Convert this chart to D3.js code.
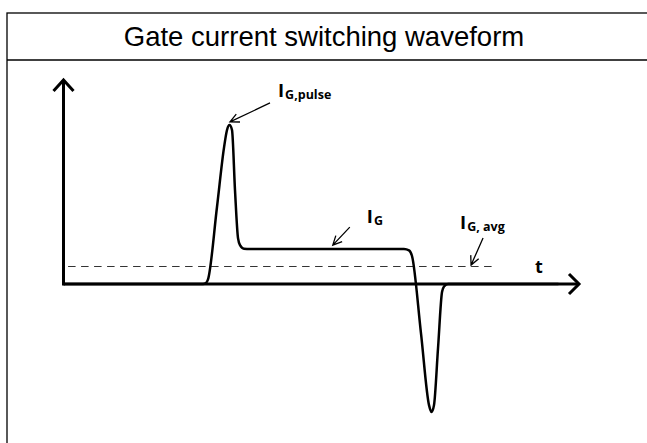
<!DOCTYPE html>
<html>
<head>
<meta charset="utf-8">
<script src="https://d3js.org/d3.v7.min.js"></script>
<style>
    body { margin: 0; background: #fff; }
    svg { display: block; }
</style>
</head>
<body>
<div id="chart"></div>
<script>
    // waveform samples (time in arbitrary units, current relative to plateau I_G = 1)
    var times    = [0, 26.85, 27.43, 27.82, 29.57, 30.93, 31.52, 32.0, 32.49, 33.07, 33.66, 34.05, 34.82, 35.99,
                    65.95, 66.93, 67.51, 69.26, 70.82, 71.3, 71.79, 72.57, 73.35, 73.74, 74.51, 75.29, 96];
    var currents = [0, 0, 0.03, 0.13, 2.2, 3.89, 4.4, 4.54, 4.4, 2.69, 1.31, 1.11, 1.01, 1.0,
                    1.0, 0.96, 0.8, -1.41, -3.46, -3.66, -3.46, -1.84, -0.23, -0.07, 0, 0, 0];

    var avgCurrent = 0.5;
    var avgRange = [0.6, 84];

    var title = "Gate current switching waveform";
    var axisLabel = "t";

    // annotation labels: main text, subscript, point the arrow goes to (time, current)
    var annLabels = ["I", "I", "I"];
    var annSubs = ["G,pulse", "G", "G, avg"];
    var annTimes = [32.1, 52.1, 79.0];
    var annValues = [4.63, 1.11, 0.54];

    var width = 647;
    var height = 443;

    var svg = d3.select("#chart").append("svg")
        .attr("width", width)
        .attr("height", height);

    // frame + title row
    svg.append("rect")
        .attr("x", 7).attr("y", 13)
        .attr("width", 700).attr("height", 500)
        .attr("fill", "none")
        .attr("stroke", "#000")
        .attr("stroke-width", 1.3);
    svg.append("line")
        .attr("x1", 7).attr("x2", width)
        .attr("y1", 60).attr("y2", 60)
        .attr("stroke", "#000")
        .attr("stroke-width", 1.3);
    svg.append("text")
        .attr("x", 324).attr("y", 46)
        .attr("text-anchor", "middle")
        .style("font-family", "'Liberation Sans', Arial, sans-serif")
        .style("font-size", "27.5px")
        .text(title);

    var xs = d3.scaleLinear().domain([0, 100]).range([65, 579]);
    var ys = d3.scaleLinear().domain([0, 1]).range([284, 249]);

    // axes with arrow heads
    var yTop = 5.83;
    svg.append("path")
        .attr("d", d3.line()([[xs(0) - 1.5, ys(0)], [xs(100), ys(0)]]))
        .attr("stroke", "#000").attr("stroke-width", 3).attr("fill", "none");
    svg.append("path")
        .attr("d", d3.line()([[xs(0) - 1.5, ys(0) + 1.5], [xs(0) - 1.5, ys(yTop)]]))
        .attr("stroke", "#000").attr("stroke-width", 3).attr("fill", "none");
    svg.append("path")
        .attr("d", d3.line()([[xs(100) - 10, ys(0) - 10], [xs(100), ys(0)], [xs(100) - 10, ys(0) + 10]]))
        .attr("stroke", "#000").attr("stroke-width", 3).attr("fill", "none");
    svg.append("path")
        .attr("d", d3.line()([[xs(0) - 11.5, ys(yTop) + 11], [xs(0) - 1.5, ys(yTop)], [xs(0) + 8.5, ys(yTop) + 11]]))
        .attr("stroke", "#000").attr("stroke-width", 3).attr("fill", "none");

    svg.append("text")
        .attr("x", 535).attr("y", 273)
        .style("font-family", "'Open Sans', sans-serif")
        .style("font-weight", "bold")
        .style("font-size", "18px")
        .text(axisLabel);

    // average current, dashed
    svg.append("line")
        .attr("x1", xs(avgRange[0])).attr("x2", xs(avgRange[1]))
        .attr("y1", ys(avgCurrent)).attr("y2", ys(avgCurrent))
        .attr("stroke", "#333")
        .attr("stroke-width", 1.2)
        .attr("stroke-dasharray", "7.5,5.5");

    // waveform
    var lineFunction = d3.line()
        .x(function (d, i) { return xs(times[i]); })
        .y(function (d) { return ys(d); })
        .curve(d3.curveMonotoneX);
    svg.append("path")
        .attr("d", lineFunction(currents))
        .attr("stroke", "#000")
        .attr("stroke-width", 2.5)
        .attr("stroke-linejoin", "round")
        .attr("fill", "none");

    // annotations: arrow tail and label offsets from the arrow tip
    var tailOffsets = [[40, -19], [17, -18], [12, -27]];
    var labelOffsets = [[48, -25], [34, -22], [-11, -36]];

    annLabels.forEach(function (lab, i) {
        var tx = xs(annTimes[i]), ty = ys(annValues[i]);
        var sx = tx + tailOffsets[i][0], sy = ty + tailOffsets[i][1];
        var ang = Math.atan2(sy - ty, sx - tx);
        var w = 0.45, len = 10;
        var p1 = [tx + len * Math.cos(ang + w), ty + len * Math.sin(ang + w)];
        var p2 = [tx + len * Math.cos(ang - w), ty + len * Math.sin(ang - w)];
        svg.append("path")
            .attr("d", d3.line()([[sx, sy], [tx, ty]]) + d3.line()([p1, [tx, ty], p2]))
            .attr("stroke", "#000").attr("stroke-width", 1.3).attr("fill", "none");

        var t = svg.append("text")
            .attr("x", tx + labelOffsets[i][0])
            .attr("y", ty + labelOffsets[i][1])
            .style("font-family", "'Open Sans', sans-serif")
            .style("font-weight", "bold")
            .style("font-size", "18.5px");
        t.append("tspan").text(lab);
        t.append("tspan")
            .attr("dx", 1)
            .attr("dy", 2)
            .style("font-size", "12.5px")
            .text(annSubs[i]);
    });
</script>
</body>
</html>
